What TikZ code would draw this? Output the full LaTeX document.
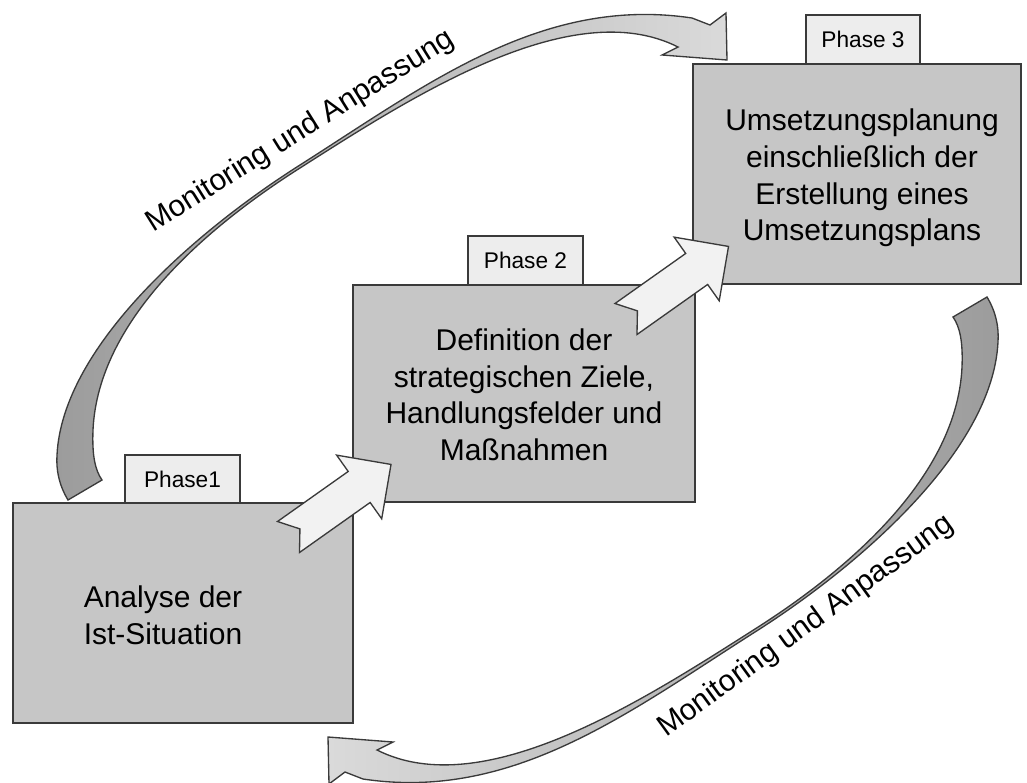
\documentclass[tikz,border=0pt]{standalone}
\usepackage{fontspec}
\setmainfont{Liberation Sans}
\usetikzlibrary{calc}
\definecolor{boxfill}{HTML}{C6C6C6}
\definecolor{tabfill}{HTML}{EDEDED}
\definecolor{arrfill}{HTML}{F2F2F2}
\definecolor{edgecol}{HTML}{3A3A3A}
\definecolor{curvedark}{HTML}{9C9C9C}
\definecolor{curvelight}{HTML}{DADADA}
\begin{document}
\begin{tikzpicture}[x=0.75pt,y=-0.75pt,
  phasebox/.style={draw=edgecol, line width=1.2pt, fill=boxfill, inner sep=0pt, outer sep=0pt},
  phasetab/.style={draw=edgecol, line width=1pt, fill=tabfill, inner sep=0pt, outer sep=0pt,
    font=\fontsize{17}{20}\selectfont},
  boxtext/.style={align=center, inner sep=0pt, font=\fontsize{22.5}{27.4}\selectfont},
  curvelabel/.style={inner sep=0pt, font=\fontsize{22.5}{27}\selectfont},
  blockarr/.style={draw=edgecol, line width=1pt, fill=arrfill, line join=miter},
  curvearr/.style={draw=edgecol, line width=1pt, line join=miter},
  blockarrow/.pic={\path[blockarr] (0,-19) -- (86.6,-19) -- (86.6,-39) -- (125.6,0)
     -- (86.6,39) -- (86.6,19) -- (0,19) -- (14,0) -- cycle;}
]
\useasboundingbox (0,0) rectangle (1027,782);

% tabs
\node[phasetab, minimum width=86.25pt, minimum height=36pt] (tab1) at (182.5,479) {Phase1};
\node[phasetab, minimum width=86.25pt, minimum height=36.75pt] (tab2) at (525.5,260.5) {Phase 2};
\node[phasetab, minimum width=85.5pt, minimum height=36.75pt] (tab3) at (863,39.5) {Phase 3};

% boxes
\node[phasebox, minimum width=255pt, minimum height=165pt] (box1) at (183,613) {};
\node[phasebox, minimum width=256.5pt, minimum height=162.75pt] (box2) at (524,393.5) {};
\node[phasebox, minimum width=246pt, minimum height=165pt] (box3) at (857,174) {};

\node[boxtext] (txt1) at (163,615) {Analyse der\\Ist-Situation};
\node[boxtext] (txt2) at (524,395) {Definition der\\strategischen Ziele,\\Handlungsfelder und\\Maßnahmen};
\node[boxtext] (txt3) at (862,178) {Umsetzungsplanung\\einschließlich der\\Erstellung eines\\Umsetzungsplans};

% block arrows between the phases
\coordinate (a12) at (288.5,537);
\coordinate (a23) at (626,319);
\pic[rotate=35.3] at (a12) {blockarrow};
\pic[rotate=35.3] at (a23) {blockarrow};

% curved arrow: Phase 1 -> Phase 3
\coordinate (c1start) at (68,500);
\path[curvearr, left color=curvedark, right color=curvelight]
  (c1start) .. controls (59,485) and (56,470) .. (57,455)
  .. controls (62.5,345) and (199,229) .. (300,165)
  .. controls (426.6,84.5) and (542,-4.5) .. (692,18)
  -- (710,25) -- (726,13) -- (727,60) -- (662,55) -- (678,47)
  .. controls (571,-7) and (410,98) .. (300,168)
  .. controls (207,227) and (98,320) .. (93,430)
  .. controls (92,455) and (95,470) .. (102,480)
  -- cycle;
\node[curvelabel, rotate=32, anchor=base west] (lab1) at (153,233) {Monitoring und Anpassung};

% curved arrow: Phase 3 -> Phase 1
\begin{scope}[rotate around={180:(527.5,398.5)}]
\coordinate (c2start) at (68,500);
\path[curvearr, left color=curvelight, right color=curvedark]
  (c2start) .. controls (59,485) and (56,470) .. (57,455)
  .. controls (62.5,345) and (199,229) .. (300,165)
  .. controls (426.6,84.5) and (542,-4.5) .. (692,18)
  -- (710,25) -- (726,13) -- (727,60) -- (662,55) -- (678,47)
  .. controls (571,-7) and (410,98) .. (300,168)
  .. controls (207,227) and (98,320) .. (93,430)
  .. controls (92,455) and (95,470) .. (102,480)
  -- cycle;
\end{scope}
\node[curvelabel, rotate=36, anchor=base west] (lab2) at (666,738) {Monitoring und Anpassung};
\end{tikzpicture}
\end{document}
